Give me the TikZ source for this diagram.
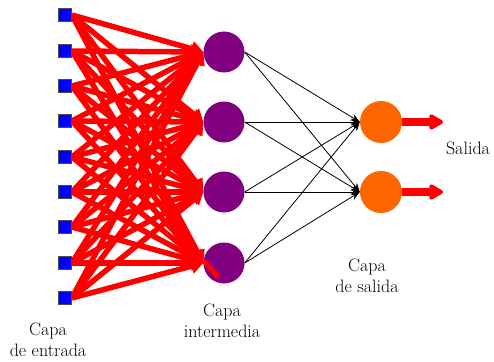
\documentclass[tikz,border=0pt]{standalone}
\usetikzlibrary{arrows.meta,backgrounds}
\definecolor{inblue}{RGB}{0,0,255}
\definecolor{hidpurple}{RGB}{128,0,128}
\definecolor{outorange}{RGB}{255,102,0}
\begin{document}
\begin{tikzpicture}[x=1pt,y=-1pt,
 inbox/.style={draw=black!70, line width=0.8pt, fill=inblue, minimum size=13pt, inner sep=0pt, rectangle},
 hidnode/.style={circle, fill=hidpurple, minimum size=41pt, inner sep=0pt},
 outnode/.style={circle, fill=outorange, minimum size=42pt, inner sep=0pt},
 redarrow/.style={red, line width=5.5pt, -{Triangle[length=12pt,width=15pt]}},
 blackarrow/.style={black, line width=0.8pt, -{Stealth[length=9pt,width=7pt]}},
 outarrow/.style={red, line width=8pt, -{Triangle[round,length=16pt,width=17pt]}},
 lbl/.style={font=\fontsize{18}{20.5}\selectfont, align=center, inner sep=0pt}]
\useasboundingbox (0,0) rectangle (494,361);
\foreach \y [count=\i] in {15,51,86,121,157,192,227,263,298}
  \node[inbox] (in\i) at (65,\y) {};
\foreach \y [count=\i] in {52,122,192,263}
  \node[hidnode] (h\i) at (224,\y) {};
\foreach \y [count=\i] in {122,192}
  \node[outnode] (o\i) at (381,\y) {};
\begin{scope}[on background layer]
  \foreach \i in {1,...,9}
    \foreach \j in {1,...,4}
      \draw[redarrow] (in\i.east) -- (h\j.west);
  \foreach \i in {1,...,4}
    \foreach \j in {1,2}
      \draw[blackarrow] (h\i.east) -- (o\j.west);
\end{scope}
\coordinate (a1) at (204,261);
\coordinate (a2) at (218,277);
\draw[red, line width=5pt] (a1) -- (a2);
\coordinate (e1) at (443,122);
\coordinate (e2) at (443,192);
\draw[outarrow] (o1.east) -- (e1);
\draw[outarrow] (o2.east) -- (e2);
\node[lbl] (salida) at (468,148) {Salida};
\node[lbl] (lsal) at (367,276) {Capa\\de salida};
\node[lbl] (lint) at (222,321) {Capa\\intermedia};
\node[lbl] (lent) at (48,340) {Capa\\de entrada};
\end{tikzpicture}
\end{document}
